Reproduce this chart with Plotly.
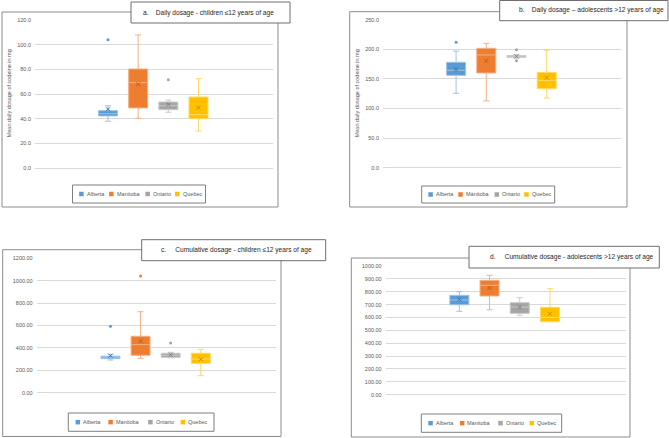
import plotly.graph_objects as go

W, H = 669, 438

regions = ["Alberta", "Manitoba", "Ontario", "Quebec"]
colors = ["#5B9BD5", "#ED7D31", "#A5A5A5", "#FFC000"]
light_colors = ["#9DC3E6", "#F4B183", "#C9C9C9", "#FFD966"]
dark_colors = ["#2E75B6", "#C55A11", "#7F7F7F", "#BF9000"]

# Panel a: Daily dosage - children <=12
a_lower = [37.9, 40.3, 45.2, 30.0]
a_q1 = [42.2, 48.7, 47.3, 40.0]
a_median = [44.0, 69.2, 50.5, 43.2]
a_q3 = [46.5, 80.3, 53.5, 57.6]
a_upper = [50.5, 107.9, 55.1, 72.4]
a_mean = [47.6, 67.9, 51.5, 48.9]
a_outliers = [[104.0], [], [71.6], []]

# Panel b: Daily dosage - adolescents >12
b_lower = [125.6, 112.7, 185.0, 117.7]
b_q1 = [156.0, 160.0, 186.5, 133.4]
b_median = [164.5, 190.4, 188.0, 147.6]
b_q3 = [178.0, 201.7, 189.5, 161.1]
b_upper = [197.0, 210.0, 191.0, 198.3]
b_mean = [166.0, 180.7, 188.0, 152.0]
b_outliers = [[211.8], [], [199.3, 180.7], []]

# Panel c: Cumulative dosage - children <=12
c_lower = [292, 307, 312, 152]
c_q1 = [304, 334, 316, 262]
c_median = [312, 429, 334, 301]
c_q3 = [326, 504, 352, 352]
c_upper = [343, 723, 361, 388]
c_mean = [330, 459, 339, 298]
c_outliers = [[593], [1042], [444], []]

# Panel d: Cumulative dosage - adolescents >12
d_lower = [648, 660, 617, 567]
d_q1 = [699, 767, 632, 567]
d_median = [736, 850, 681, 601]
d_q3 = [772, 889, 715, 679]
d_upper = [800, 928, 754, 824]
d_mean = [741, 829, 679, 629]
d_outliers = [[], [], [], []]

panel_titles = [
    "a.\u00a0\u00a0\u00a0\u00a0Daily dosage - children \u226412 years of age",
    "b.\u00a0\u00a0\u00a0\u00a0Daily dosage \u2013 adolescents >12 years of age",
    "c.\u00a0\u00a0\u00a0\u00a0\u00a0Cumulative dosage - children \u226412 years of age",
    "d.\u00a0\u00a0\u00a0\u00a0\u00a0Cumulative dosage - adolescents >12 years of age",
]
y_title = "Mean daily dosage of codeine in mg"

FONT = "Liberation Sans"


def px(x):
    return x / W


def py(y):
    return 1 - y / H


panels = [
    dict(lower=a_lower, q1=a_q1, median=a_median, q3=a_q3, upper=a_upper, mean=a_mean, out=a_outliers,
         ymax=120, dtick=20, fmt=".1f",
         dom_x=(35, 273), dom_y=(20, 168), xr=(-2.42, 5.47),
         border=(2, 12, 278, 207), tbox=(131, 2, 290, 23), ttext=(141, 12.5),
         legend=(72.5, 185, 133, 18), ylab=(9.3, 93)),
    dict(lower=b_lower, q1=b_q1, median=b_median, q3=b_q3, upper=b_upper, mean=b_mean, out=b_outliers,
         ymax=250, dtick=50, fmt=".1f",
         dom_x=(383, 621), dom_y=(19.7, 167.7), xr=(-2.42, 5.46),
         border=(349.7, 11.7, 627, 207), tbox=(499.7, 0.5, 668, 20.7), ttext=(516.7, 10.5),
         legend=(421.7, 186, 133, 17), ylab=(357.3, 93)),
    dict(lower=c_lower, q1=c_q1, median=c_median, q3=c_q3, upper=c_upper, mean=c_mean, out=c_outliers,
         ymax=1200, dtick=200, fmt=".2f",
         dom_x=(36.7, 275.7), dom_y=(258.3, 392.7), xr=(-2.45, 5.49),
         border=(2.7, 249.7, 281, 436.5), tbox=(141.7, 239.7, 325.7, 260.7), ttext=(159.3, 250.2),
         legend=(68.3, 413, 145.7, 18.3), ylab=None),
    dict(lower=d_lower, q1=d_q1, median=d_median, q3=d_q3, upper=d_upper, mean=d_mean, out=d_outliers,
         ymax=1000, dtick=100, fmt=".2f",
         dom_x=(385.7, 625.7), dom_y=(266, 394.7), xr=(-2.44, 5.51),
         border=(351.3, 258, 630, 437), tbox=(469, 246.3, 659.3, 268), ttext=(488, 257.2),
         legend=(421.3, 414, 140.4, 18.3), ylab=None),
]

# legend swatch offsets (fraction of legend width) for each entry
legend_offsets = [0.05, 0.275, 0.548, 0.771]

fig = go.Figure()
shapes = []
annotations = []
layout = {}

for pi, p in enumerate(panels):
    k = "" if pi == 0 else str(pi + 1)
    xa, ya = "x" + k, "y" + k
    for i, r in enumerate(regions):
        fig.add_trace(go.Box(
            x=[r], q1=[p["q1"][i]], median=[p["median"][i]], q3=[p["q3"][i]],
            lowerfence=[p["lower"][i]], upperfence=[p["upper"][i]],
            name=r, fillcolor=colors[i],
            line=dict(color=light_colors[i], width=1),
            whiskerwidth=0.32, boxpoints=False,
            xaxis=xa, yaxis=ya, showlegend=False, hoverinfo="skip",
        ))
        fig.add_trace(go.Scatter(
            x=[r], y=[p["mean"][i]], mode="markers",
            marker=dict(symbol="x-thin", size=4, line=dict(color=dark_colors[i], width=1)),
            showlegend=False, xaxis=xa, yaxis=ya, hoverinfo="skip",
        ))
        if p["out"][i]:
            fig.add_trace(go.Scatter(
                x=[r] * len(p["out"][i]), y=p["out"][i], mode="markers",
                marker=dict(symbol="circle", size=3, color=colors[i]),
                showlegend=False, xaxis=xa, yaxis=ya, hoverinfo="skip",
            ))

    layout["xaxis" + k] = dict(
        domain=[px(p["dom_x"][0]), px(p["dom_x"][1])], anchor=ya,
        type="category", categoryorder="array", categoryarray=regions,
        range=list(p["xr"]), showticklabels=False, showgrid=False,
        zeroline=False, showline=False, ticks="", fixedrange=True,
    )
    layout["yaxis" + k] = dict(
        domain=[py(p["dom_y"][1]), py(p["dom_y"][0])], anchor=xa,
        range=[0, p["ymax"]], dtick=p["dtick"], tick0=0, tickformat=p["fmt"],
        showgrid=True, gridcolor="#D9D9D9", gridwidth=1,
        zeroline=True, zerolinecolor="#D9D9D9", zerolinewidth=1,
        showline=False, ticks="", ticklabelstandoff=3,
        tickfont=dict(family=FONT, size=5.5, color="#595959"), fixedrange=True,
    )

    # outer chart border
    bx0, by0, bx1, by1 = p["border"]
    shapes.append(dict(type="rect", xref="paper", yref="paper",
                       x0=px(bx0), x1=px(bx1), y0=py(by1), y1=py(by0),
                       line=dict(color="#8C8C8C", width=1), layer="below"))
    # title box
    tx0, ty0, tx1, ty1 = p["tbox"]
    shapes.append(dict(type="rect", xref="paper", yref="paper",
                       x0=px(tx0), x1=px(tx1), y0=py(ty1), y1=py(ty0),
                       line=dict(color="#6E6E6E", width=1), fillcolor="white", layer="above"))
    annotations.append(dict(
        text=panel_titles[pi], xref="paper", yref="paper",
        x=px(p["ttext"][0]), y=py(p["ttext"][1]), xanchor="left", yanchor="middle",
        showarrow=False, font=dict(family=FONT, size=6.6, color="#262626"),
    ))
    if p["ylab"]:
        annotations.append(dict(
            text=y_title, xref="paper", yref="paper",
            x=px(p["ylab"][0]), y=py(p["ylab"][1]), xanchor="center", yanchor="middle",
            textangle=-90, showarrow=False,
            font=dict(family=FONT, size=5.5, color="#595959"),
        ))

    # legend box
    lx, ly, lw, lh = p["legend"]
    shapes.append(dict(type="rect", xref="paper", yref="paper",
                       x0=px(lx), x1=px(lx + lw), y0=py(ly + lh), y1=py(ly),
                       line=dict(color="#7F7F7F", width=1), fillcolor="white", layer="above"))
    cy = ly + lh / 2
    for i, r in enumerate(regions):
        sx = lx + legend_offsets[i] * lw
        shapes.append(dict(type="rect", xref="paper", yref="paper",
                           x0=px(sx), x1=px(sx + 4.5), y0=py(cy + 2.25), y1=py(cy - 2.25),
                           line=dict(width=0), fillcolor=colors[i], layer="above"))
        annotations.append(dict(
            text=r, xref="paper", yref="paper",
            x=px(sx + 5.5), y=py(cy), xanchor="left", yanchor="middle",
            showarrow=False, font=dict(family=FONT, size=5.5, color="#595959"),
        ))

fig.update_layout(
    width=W, height=H, margin=dict(l=0, r=0, t=0, b=0, autoexpand=False),
    paper_bgcolor="white", plot_bgcolor="white",
    boxmode="overlay", boxgap=0.1,
    shapes=shapes, annotations=annotations, showlegend=False,
    **layout,
)

fig.write_html("out.html", config={"displayModeBar": False},
               post_script="document.body.style.margin='0px';")
